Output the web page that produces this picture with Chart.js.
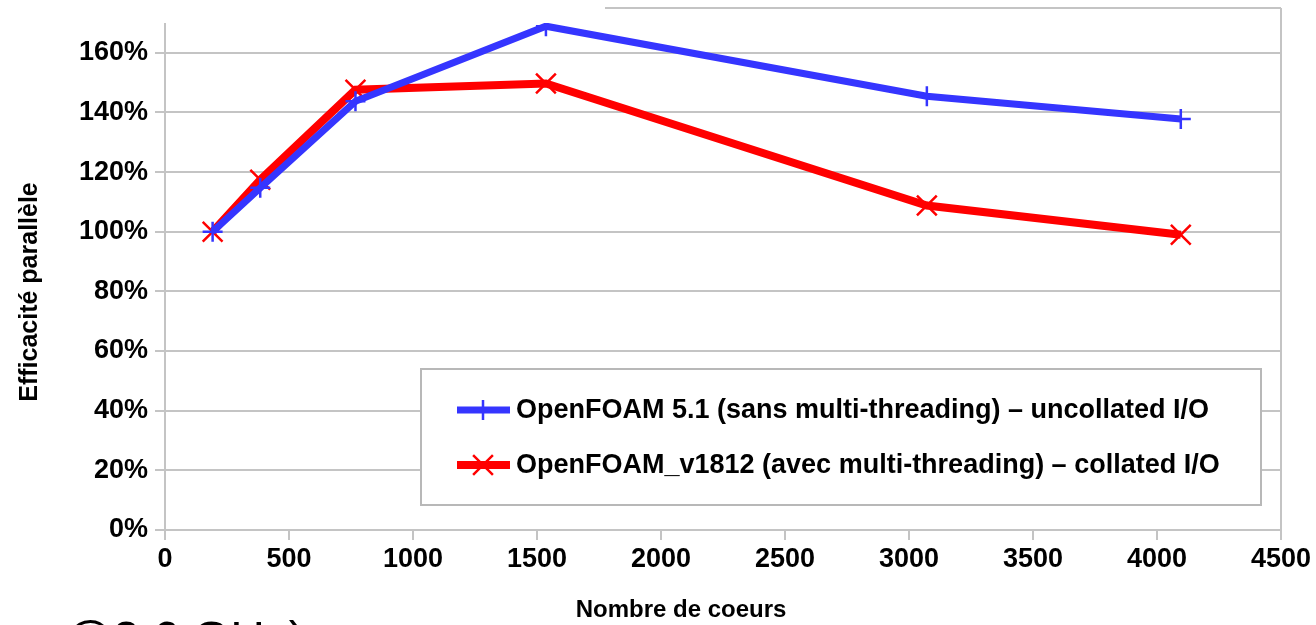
<!DOCTYPE html>
<html><head><meta charset="utf-8">
<script src="https://cdn.jsdelivr.net/npm/chart.js@4.4.1/dist/chart.umd.min.js"></script>
<style>
html,body{margin:0;padding:0;background:#fff;overflow:hidden;width:1316px;height:625px}
#wrap{position:absolute;left:0;top:0;width:1316px;height:625px}
#note{position:absolute;left:64px;top:615px;font:48px "Liberation Sans",Arial,sans-serif;line-height:48px;color:#000;white-space:nowrap}
</style></head><body>
<div id="wrap"><canvas id="c" width="1316" height="625"></canvas></div>
<div id="note">@2.6 GHz)</div>
<script>
// ---- data ----
const cores = [192, 384, 768, 1536, 3072, 4096];
const effOpenFOAM51 = [100, 114.7, 143.7, 168.9, 145.4, 137.8];
const effOpenFOAMv1812 = [100, 117.4, 147.6, 149.7, 108.8, 99.0];
const seriesLabels = [
  'OpenFOAM 5.1 (sans multi-threading) – uncollated I/O',
  'OpenFOAM_v1812 (avec multi-threading) – collated I/O'
];
const yTickValues = [0, 20, 40, 60, 80, 100, 120, 140, 160];
const yTop = 175;
const xMin = 0, xMax = 4500, xStep = 500;
const xTitle = 'Nombre de coeurs';
const yTitle = 'Efficacité parallèle';

const FONT = '"Liberation Sans", Arial, sans-serif';
const GRID = '#c4c4c4';
const BLUE = '#3535ff';
const RED = '#ff0000';

const toPts = (xs, ys) => xs.map((x, i) => ({x: x, y: ys[i]}));

const titlesPlugin = {
  id: 'titles',
  afterDraw(chart) {
    const ctx = chart.ctx;
    ctx.save();
    ctx.fillStyle = '#000';
    ctx.textAlign = 'center';
    ctx.textBaseline = 'middle';
    ctx.font = 'bold 24px ' + FONT;
    ctx.fillText(xTitle, 681, 610);
    ctx.translate(30, 292);
    ctx.rotate(-Math.PI / 2);
    ctx.font = 'bold 25px ' + FONT;
    ctx.fillText(yTitle, 0, 0);
    ctx.restore();
  }
};

const coverPlugin = {
  id: 'cover',
  afterDatasetsDraw(chart) {
    const ctx = chart.ctx;
    ctx.save();
    ctx.fillStyle = '#fff';
    ctx.fillRect(0, 0, 605, 23);
    ctx.restore();
  }
};

const legendBoxPlugin = {
  id: 'legendBox',
  afterDatasetsDraw(chart) {
    const ctx = chart.ctx;
    const box = {l: 421, t: 369, r: 1261, b: 505};
    ctx.save();
    ctx.fillStyle = '#fff';
    ctx.fillRect(box.l, box.t, box.r - box.l, box.b - box.t);
    ctx.strokeStyle = '#b8b8b8';
    ctx.lineWidth = 2;
    ctx.strokeRect(box.l, box.t, box.r - box.l, box.b - box.t);
    chart.data.datasets.forEach((ds, i) => {
      const y = 410 + i * 55;
      ctx.strokeStyle = ds.borderColor;
      ctx.lineWidth = ds.borderWidth;
      ctx.lineCap = 'butt';
      ctx.beginPath();
      ctx.moveTo(457, y);
      ctx.lineTo(510, y);
      ctx.stroke();
      ctx.lineWidth = ds.pointBorderWidth;
      Chart.helpers.drawPoint(ctx, {pointStyle: ds.pointStyle, radius: ds.pointRadius, rotation: 0, borderWidth: ds.pointBorderWidth}, 483, y);
      ctx.fillStyle = '#000';
      ctx.font = 'bold 27px ' + FONT;
      ctx.textAlign = 'left';
      ctx.textBaseline = 'middle';
      ctx.fillText(ds.label, 516, y + 1);
    });
    ctx.restore();
  }
};

new Chart(document.getElementById('c'), {
  type: 'line',
  data: {
    datasets: [
      {
        label: seriesLabels[0],
        data: toPts(cores, effOpenFOAM51),
        borderColor: BLUE, backgroundColor: BLUE,
        borderWidth: 7,
        pointStyle: 'cross', pointRadius: 10, pointHoverRadius: 10,
        pointBorderColor: BLUE, pointBorderWidth: 2.5,
        tension: 0, fill: false
      },
      {
        label: seriesLabels[1],
        data: toPts(cores, effOpenFOAMv1812),
        borderColor: RED, backgroundColor: RED,
        borderWidth: 8,
        pointStyle: 'crossRot', pointRadius: 14, pointHoverRadius: 14,
        pointBorderColor: RED, pointBorderWidth: 2.5,
        tension: 0, fill: false
      }
    ]
  },
  options: {
    responsive: false,
    animation: false,
    devicePixelRatio: 1,
    layout: {autoPadding: false, padding: {top: 8, right: 35, left: 0, bottom: 0}},
    plugins: {legend: {display: false}, tooltip: {enabled: false}},
    scales: {
      x: {
        type: 'linear', min: xMin, max: xMax,
        ticks: {stepSize: xStep, color: '#000', font: {family: FONT, size: 27, weight: 'bold'}, padding: 3, maxRotation: 0, autoSkip: false, callback: v => String(v)},
        grid: {
          color: c => (c.tick && (c.tick.value === xMin || c.tick.value === xMax)) ? GRID : 'rgba(0,0,0,0)',
          tickColor: GRID, tickLength: 10, lineWidth: 2
        },
        border: {display: true, color: GRID, width: 2},
        afterFit(s) { s.height = 95; s.paddingLeft = 0; s.paddingRight = 0; }
      },
      y: {
        min: 0, max: yTop,
        afterBuildTicks(s) { s.ticks = yTickValues.concat([yTop]).map(v => ({value: v})); },
        ticks: {color: '#000', font: {family: FONT, size: 27, weight: 'bold'}, padding: 7, callback: v => v === yTop ? '' : v + '%'},
        grid: {color: GRID, tickColor: GRID, tickLength: 10, lineWidth: 2},
        border: {display: true, color: GRID, width: 2},
        afterFit(s) { s.width = 165; s.paddingTop = 0; s.paddingBottom = 0; }
      }
    }
  },
  plugins: [coverPlugin, legendBoxPlugin, titlesPlugin]
});
</script>
</body></html>
